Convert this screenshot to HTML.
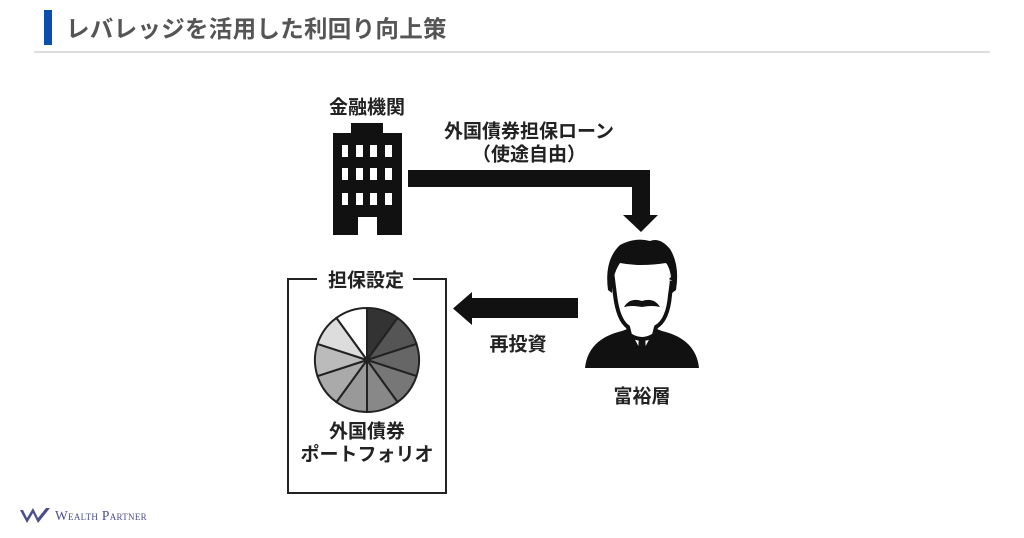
<!DOCTYPE html>
<html><head><meta charset="utf-8"><style>
html,body{margin:0;padding:0;background:#fff;width:1024px;height:538px;overflow:hidden;position:relative;font-family:"Liberation Sans","Noto Sans CJK JP",sans-serif}
.t{position:absolute;font-weight:bold;color:#222;white-space:nowrap;transform:translate(-50%,-50%);font-size:19px}
</style></head><body>
<div style="position:absolute;left:44px;top:10px;width:8px;height:35px;background:#0a4fb0"></div>
<div style="position:absolute;left:66px;top:10px;font-size:23.5px;font-weight:bold;color:#555;letter-spacing:0.3px">レバレッジを活用した利回り向上策</div>
<div style="position:absolute;left:34px;top:51px;width:956px;height:2px;background:#ddd"></div>

<svg width="1024" height="538" style="position:absolute;left:0;top:0">
<rect x="351" y="123" width="32" height="12" fill="#111"/>
<rect x="333" y="133" width="69" height="102" fill="#111"/>
<g fill="#fff">
<rect x="342" y="145" width="6" height="12"/><rect x="356" y="145" width="7" height="12"/><rect x="370" y="145" width="7" height="12"/><rect x="385" y="145" width="7" height="12"/>
<rect x="342" y="168" width="6" height="12"/><rect x="356" y="168" width="7" height="12"/><rect x="370" y="168" width="7" height="12"/><rect x="385" y="168" width="7" height="12"/>
<rect x="342" y="193" width="6" height="12"/><rect x="356" y="193" width="7" height="12"/><rect x="370" y="193" width="7" height="12"/><rect x="385" y="193" width="7" height="12"/>
<rect x="358" y="217" width="19" height="18"/>
</g>
<path d="M408 170 H650 V215 H658 L641 232 L623 215 H632 V187 H408 Z" fill="#111"/>
<path d="M578 298 V318 H472 V325 L453 308.5 L472 292 V298 Z" fill="#111"/>
<path d="M317 279 H288 V493 H446 V279 H413" fill="none" stroke="#222" stroke-width="2"/>
<g transform="translate(367,360)" stroke="#222" stroke-width="2">
<path d="M0 0 L0 -52 A52 52 0 0 1 30.6 -42.1 Z" fill="#333"/>
<path d="M0 0 L30.6 -42.1 A52 52 0 0 1 49.5 -16.1 Z" fill="#555"/>
<path d="M0 0 L49.5 -16.1 A52 52 0 0 1 49.5 16.1 Z" fill="#666"/>
<path d="M0 0 L49.5 16.1 A52 52 0 0 1 30.6 42.1 Z" fill="#777"/>
<path d="M0 0 L30.6 42.1 A52 52 0 0 1 0 52 Z" fill="#888"/>
<path d="M0 0 L0 52 A52 52 0 0 1 -30.6 42.1 Z" fill="#999"/>
<path d="M0 0 L-30.6 42.1 A52 52 0 0 1 -49.5 16.1 Z" fill="#aaa"/>
<path d="M0 0 L-49.5 16.1 A52 52 0 0 1 -49.5 -16.1 Z" fill="#bbb"/>
<path d="M0 0 L-49.5 -16.1 A52 52 0 0 1 -30.6 -42.1 Z" fill="#ddd"/>
<path d="M0 0 L-30.6 -42.1 A52 52 0 0 1 0 -52 Z" fill="#fff"/>
</g>
<g transform="translate(580,235)">
<path d="M5 133 Q8 104 42 96 L50 93 L62 118 L74 93 L82 96 Q116 104 119 133 Z" fill="#111"/>
<path d="M50 95 L62 118 L74 95 L72 92 L52 92 Z" fill="#fff"/>
<path d="M59 100 L65 100 L66 117 L62 120 L58 117 Z" fill="#111"/>
<path d="M33 45 Q30 20 35 60 Q38 85 48 92 L50 100 Q62 108 74 100 L76 92 Q88 85 90 60 Q93 40 91 45" fill="#fff" stroke="#111" stroke-width="4"/>
<path d="M28 55 Q24 25 40 10 Q55 2 70 6 Q80 2 90 14 Q100 30 96 55 L92 58 Q92 35 86 28 Q60 32 40 28 Q32 40 32 58 Z" fill="#111"/>
<path d="M44 72 Q50 62 62 66 Q74 62 80 72 Q72 70 62 72 Q52 70 44 72 Z" fill="#111"/>
</g>
<path d="M20 510 L27 523 L33 513 L38 523 L50 508 L46 508 L38 518 L33 508 L27 518 L23 510 Z" fill="#4a4f8a"/>
</svg>

<div class="t" style="left:367px;top:106px">金融機関</div>
<div class="t" style="left:529px;top:130px">外国債券担保ローン</div>
<div class="t" style="left:529px;top:153px">（使途自由）</div>
<div class="t" style="left:366px;top:279px">担保設定</div>
<div class="t" style="left:518px;top:343px">再投資</div>
<div class="t" style="left:642px;top:395px">富裕層</div>
<div class="t" style="left:367px;top:430px">外国債券</div>
<div class="t" style="left:367px;top:453px">ポートフォリオ</div>
<div style="position:absolute;left:55px;top:508px;font-family:'Liberation Serif',serif;font-size:13.5px;color:#4a4f8a;letter-spacing:0.3px;font-variant:small-caps">Wealth Partner</div>
</body></html>
